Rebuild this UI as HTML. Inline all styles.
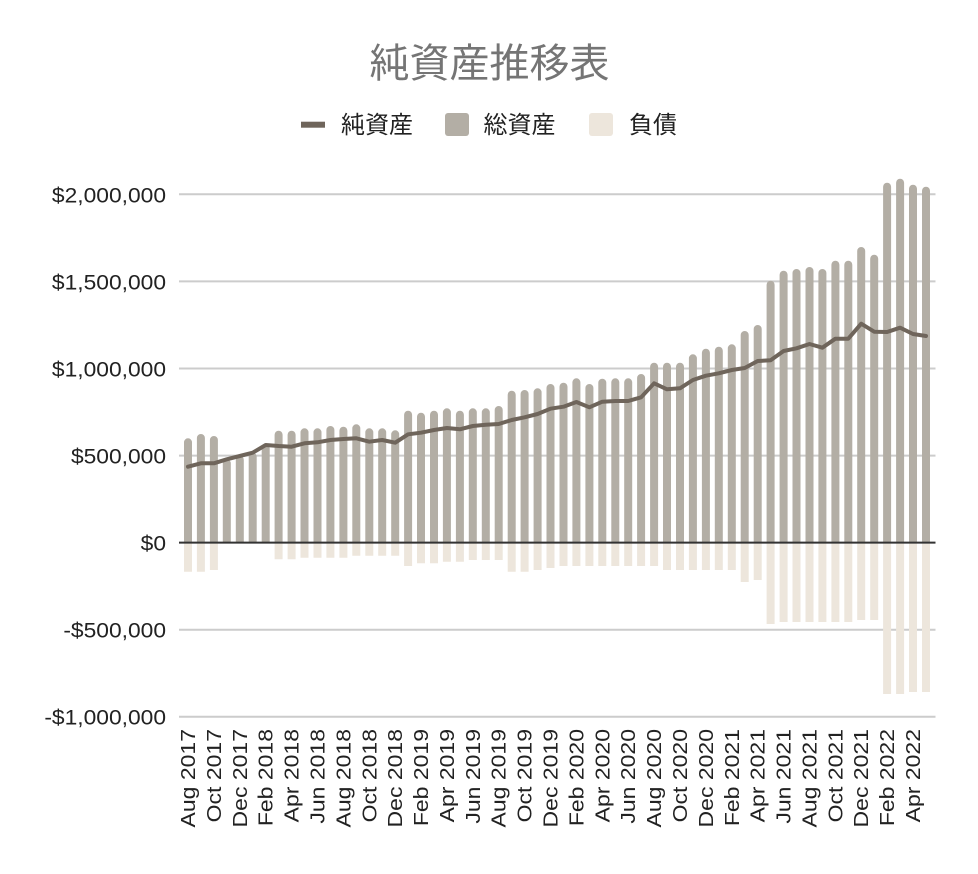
<!DOCTYPE html>
<html><head><meta charset="utf-8"><style>
html,body{margin:0;padding:0;background:#fff;}
svg{display:block;}
text{font-family:"Liberation Sans","Noto Sans CJK JP",sans-serif;}
</style></head><body>
<svg width="978" height="874" viewBox="0 0 978 874" xmlns="http://www.w3.org/2000/svg">
<rect width="978" height="874" fill="#fff"/>
<text x="489.5" y="77" font-size="40" fill="#757575" text-anchor="middle">純資産推移表</text>
<rect x="301" y="121.7" width="24" height="6" fill="#6f655b"/>
<text x="341" y="133" font-size="24" fill="#222">純資産</text>
<rect x="445" y="113" width="24" height="23" rx="3" fill="#b3aea5"/>
<text x="483.5" y="133" font-size="24" fill="#222">総資産</text>
<rect x="589" y="113" width="24" height="23" rx="3" fill="#ede6dc"/>
<text x="629" y="133" font-size="24" fill="#222">負債</text>
<g stroke="#cccccc" stroke-width="2">
<line x1="179" y1="194.3" x2="935.5" y2="194.3"/>
<line x1="179" y1="281.4" x2="935.5" y2="281.4"/>
<line x1="179" y1="368.5" x2="935.5" y2="368.5"/>
<line x1="179" y1="455.6" x2="935.5" y2="455.6"/>
<line x1="179" y1="629.7" x2="935.5" y2="629.7"/>
<line x1="179" y1="716.7" x2="935.5" y2="716.7"/>
</g>
<g font-size="21" fill="#222" text-anchor="end">
<text transform="translate(166,202.3) scale(1.086,1)">$2,000,000</text>
<text transform="translate(166,289.4) scale(1.086,1)">$1,500,000</text>
<text transform="translate(166,376.5) scale(1.086,1)">$1,000,000</text>
<text transform="translate(166,463.6) scale(1.086,1)">$500,000</text>
<text transform="translate(166,550.6) scale(1.086,1)">$0</text>
<text transform="translate(166,637.7) scale(1.086,1)">-$500,000</text>
<text transform="translate(166,724.7) scale(1.086,1)">-$1,000,000</text>
</g>
<path fill="#b3aea5" d="M184,542.6V442.3a4,4 0 0 1 8,0V542.6Z
M196.9,542.6V438a4,4 0 0 1 8,0V542.6Z
M209.9,542.6V440a4,4 0 0 1 8,0V542.6Z
M222.8,542.6V463.3a4,4 0 0 1 8,0V542.6Z
M235.8,542.6V460a4,4 0 0 1 8,0V542.6Z
M248.7,542.6V456.7a4,4 0 0 1 8,0V542.6Z
M261.7,542.6V448.5a4,4 0 0 1 8,0V542.6Z
M274.6,542.6V434.7a4,4 0 0 1 8,0V542.6Z
M287.6,542.6V434.7a4,4 0 0 1 8,0V542.6Z
M300.5,542.6V432.3a4,4 0 0 1 8,0V542.6Z
M313.5,542.6V432.3a4,4 0 0 1 8,0V542.6Z
M326.4,542.6V430a4,4 0 0 1 8,0V542.6Z
M339.4,542.6V430.7a4,4 0 0 1 8,0V542.6Z
M352.3,542.6V428.3a4,4 0 0 1 8,0V542.6Z
M365.3,542.6V432.3a4,4 0 0 1 8,0V542.6Z
M378.2,542.6V432.3a4,4 0 0 1 8,0V542.6Z
M391.2,542.6V434.3a4,4 0 0 1 8,0V542.6Z
M404.1,542.6V414.7a4,4 0 0 1 8,0V542.6Z
M417,542.6V416.7a4,4 0 0 1 8,0V542.6Z
M430,542.6V414.7a4,4 0 0 1 8,0V542.6Z
M442.9,542.6V412.3a4,4 0 0 1 8,0V542.6Z
M455.9,542.6V414.7a4,4 0 0 1 8,0V542.6Z
M468.8,542.6V412.3a4,4 0 0 1 8,0V542.6Z
M481.8,542.6V412.3a4,4 0 0 1 8,0V542.6Z
M494.7,542.6V410a4,4 0 0 1 8,0V542.6Z
M507.7,542.6V394.7a4,4 0 0 1 8,0V542.6Z
M520.6,542.6V394a4,4 0 0 1 8,0V542.6Z
M533.6,542.6V392.3a4,4 0 0 1 8,0V542.6Z
M546.5,542.6V388a4,4 0 0 1 8,0V542.6Z
M559.5,542.6V386.7a4,4 0 0 1 8,0V542.6Z
M572.4,542.6V382.3a4,4 0 0 1 8,0V542.6Z
M585.4,542.6V388a4,4 0 0 1 8,0V542.6Z
M598.3,542.6V382.7a4,4 0 0 1 8,0V542.6Z
M611.3,542.6V382.3a4,4 0 0 1 8,0V542.6Z
M624.2,542.6V382.3a4,4 0 0 1 8,0V542.6Z
M637.1,542.6V378a4,4 0 0 1 8,0V542.6Z
M650.1,542.6V366.7a4,4 0 0 1 8,0V542.6Z
M663,542.6V366.7a4,4 0 0 1 8,0V542.6Z
M676,542.6V366.7a4,4 0 0 1 8,0V542.6Z
M688.9,542.6V358.3a4,4 0 0 1 8,0V542.6Z
M701.9,542.6V352.7a4,4 0 0 1 8,0V542.6Z
M714.8,542.6V350.7a4,4 0 0 1 8,0V542.6Z
M727.8,542.6V348.3a4,4 0 0 1 8,0V542.6Z
M740.7,542.6V335a4,4 0 0 1 8,0V542.6Z
M753.7,542.6V329a4,4 0 0 1 8,0V542.6Z
M766.6,542.6V284.7a4,4 0 0 1 8,0V542.6Z
M779.6,542.6V274.7a4,4 0 0 1 8,0V542.6Z
M792.5,542.6V273a4,4 0 0 1 8,0V542.6Z
M805.5,542.6V271a4,4 0 0 1 8,0V542.6Z
M818.4,542.6V273a4,4 0 0 1 8,0V542.6Z
M831.4,542.6V264.7a4,4 0 0 1 8,0V542.6Z
M844.3,542.6V264.7a4,4 0 0 1 8,0V542.6Z
M857.2,542.6V251a4,4 0 0 1 8,0V542.6Z
M870.2,542.6V258.7a4,4 0 0 1 8,0V542.6Z
M883.1,542.6V186.7a4,4 0 0 1 8,0V542.6Z
M896.1,542.6V182.7a4,4 0 0 1 8,0V542.6Z
M909,542.6V188.7a4,4 0 0 1 8,0V542.6Z
M922,542.6V190.7a4,4 0 0 1 8,0V542.6Z"/>
<path fill="#ede6dc" d="M184,542.6h8v29.1h-8Z
M196.9,542.6h8v29.1h-8Z
M209.9,542.6h8v27.4h-8Z
M274.6,542.6h8v16.7h-8Z
M287.6,542.6h8v16.7h-8Z
M300.5,542.6h8v15.1h-8Z
M313.5,542.6h8v15.1h-8Z
M326.4,542.6h8v15.1h-8Z
M339.4,542.6h8v15.1h-8Z
M352.3,542.6h8v13.1h-8Z
M365.3,542.6h8v13.1h-8Z
M378.2,542.6h8v13.1h-8Z
M391.2,542.6h8v13.1h-8Z
M404.1,542.6h8v23.4h-8Z
M417,542.6h8v20.7h-8Z
M430,542.6h8v20.7h-8Z
M442.9,542.6h8v19.1h-8Z
M455.9,542.6h8v19.1h-8Z
M468.8,542.6h8v17.4h-8Z
M481.8,542.6h8v17.4h-8Z
M494.7,542.6h8v17.4h-8Z
M507.7,542.6h8v29.1h-8Z
M520.6,542.6h8v29.1h-8Z
M533.6,542.6h8v27.4h-8Z
M546.5,542.6h8v25.4h-8Z
M559.5,542.6h8v23.4h-8Z
M572.4,542.6h8v23.4h-8Z
M585.4,542.6h8v23.4h-8Z
M598.3,542.6h8v23.4h-8Z
M611.3,542.6h8v23.4h-8Z
M624.2,542.6h8v23.4h-8Z
M637.1,542.6h8v23.4h-8Z
M650.1,542.6h8v23.4h-8Z
M663,542.6h8v27.4h-8Z
M676,542.6h8v27.4h-8Z
M688.9,542.6h8v27.4h-8Z
M701.9,542.6h8v27.4h-8Z
M714.8,542.6h8v27.4h-8Z
M727.8,542.6h8v27.4h-8Z
M740.7,542.6h8v39.4h-8Z
M753.7,542.6h8v37.4h-8Z
M766.6,542.6h8v81.4h-8Z
M779.6,542.6h8v79.4h-8Z
M792.5,542.6h8v79.4h-8Z
M805.5,542.6h8v79.4h-8Z
M818.4,542.6h8v79.4h-8Z
M831.4,542.6h8v79.4h-8Z
M844.3,542.6h8v79.4h-8Z
M857.2,542.6h8v77.4h-8Z
M870.2,542.6h8v77.4h-8Z
M883.1,542.6h8v151.4h-8Z
M896.1,542.6h8v151.4h-8Z
M909,542.6h8v149.4h-8Z
M922,542.6h8v149.4h-8Z"/>
<line x1="179" y1="542.6" x2="935.5" y2="542.6" stroke="#333" stroke-width="2"/>
<polyline fill="none" stroke="#6f655b" stroke-width="4" stroke-linejoin="round" stroke-linecap="round" points="188,466.7 200.9,463.3 213.9,463.3 226.8,459.3 239.8,456 252.7,452.7 265.7,445 278.6,446 291.6,446.7 304.5,443.3 317.5,442.3 330.4,440 343.4,439 356.3,438.3 369.3,441.7 382.2,440 395.2,442.7 408.1,434.3 421,432.7 434,430 446.9,428 459.9,429.3 472.8,426 485.8,424.7 498.7,424 511.7,420 524.6,417.3 537.6,414 550.5,408.7 563.5,406.7 576.4,402 589.4,407.3 602.3,401.7 615.3,401 628.2,401 641.1,397.3 654.1,383.3 667,389.3 680,388.3 692.9,380 705.9,375.7 718.8,373.3 731.8,370 744.7,368 757.7,361 770.6,360.3 783.6,351 796.5,348.3 809.5,344 822.4,347.7 835.4,338.7 848.3,338.7 861.2,323.7 874.2,331.7 887.1,332 900.1,327.7 913,334 926,336"/>
<g font-size="20" fill="#222" text-anchor="end">
<text transform="translate(195,729) rotate(-90) scale(1.15,1)">Aug 2017</text>
<text transform="translate(220.9,729) rotate(-90) scale(1.15,1)">Oct 2017</text>
<text transform="translate(246.8,729) rotate(-90) scale(1.15,1)">Dec 2017</text>
<text transform="translate(272.7,729) rotate(-90) scale(1.15,1)">Feb 2018</text>
<text transform="translate(298.6,729) rotate(-90) scale(1.15,1)">Apr 2018</text>
<text transform="translate(324.5,729) rotate(-90) scale(1.15,1)">Jun 2018</text>
<text transform="translate(350.4,729) rotate(-90) scale(1.15,1)">Aug 2018</text>
<text transform="translate(376.3,729) rotate(-90) scale(1.15,1)">Oct 2018</text>
<text transform="translate(402.2,729) rotate(-90) scale(1.15,1)">Dec 2018</text>
<text transform="translate(428,729) rotate(-90) scale(1.15,1)">Feb 2019</text>
<text transform="translate(453.9,729) rotate(-90) scale(1.15,1)">Apr 2019</text>
<text transform="translate(479.8,729) rotate(-90) scale(1.15,1)">Jun 2019</text>
<text transform="translate(505.7,729) rotate(-90) scale(1.15,1)">Aug 2019</text>
<text transform="translate(531.6,729) rotate(-90) scale(1.15,1)">Oct 2019</text>
<text transform="translate(557.5,729) rotate(-90) scale(1.15,1)">Dec 2019</text>
<text transform="translate(583.4,729) rotate(-90) scale(1.15,1)">Feb 2020</text>
<text transform="translate(609.3,729) rotate(-90) scale(1.15,1)">Apr 2020</text>
<text transform="translate(635.2,729) rotate(-90) scale(1.15,1)">Jun 2020</text>
<text transform="translate(661.1,729) rotate(-90) scale(1.15,1)">Aug 2020</text>
<text transform="translate(687,729) rotate(-90) scale(1.15,1)">Oct 2020</text>
<text transform="translate(712.9,729) rotate(-90) scale(1.15,1)">Dec 2020</text>
<text transform="translate(738.8,729) rotate(-90) scale(1.15,1)">Feb 2021</text>
<text transform="translate(764.7,729) rotate(-90) scale(1.15,1)">Apr 2021</text>
<text transform="translate(790.6,729) rotate(-90) scale(1.15,1)">Jun 2021</text>
<text transform="translate(816.5,729) rotate(-90) scale(1.15,1)">Aug 2021</text>
<text transform="translate(842.4,729) rotate(-90) scale(1.15,1)">Oct 2021</text>
<text transform="translate(868.2,729) rotate(-90) scale(1.15,1)">Dec 2021</text>
<text transform="translate(894.1,729) rotate(-90) scale(1.15,1)">Feb 2022</text>
<text transform="translate(920,729) rotate(-90) scale(1.15,1)">Apr 2022</text>
</g>
</svg>
</body></html>
